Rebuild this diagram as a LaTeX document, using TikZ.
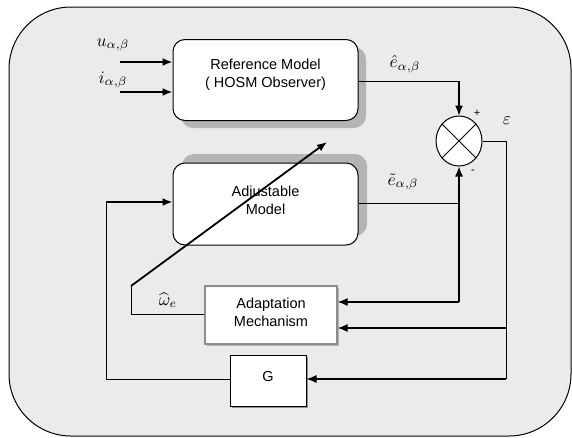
\documentclass[tikz,border=0pt]{standalone}
\usepackage{fontspec}
\usepackage{graphicx}
\newfontfamily\arialf{Liberation Sans}
\usetikzlibrary{arrows.meta,shapes.geometric}
\definecolor{bggray}{HTML}{EBEBEB}
\definecolor{shgray}{HTML}{B4B4B4}
\definecolor{bordergray}{HTML}{8C8C8C}
\newcommand{\mlabtext}[1]{\scalebox{1.75}{$#1$}}
\begin{document}
\begin{tikzpicture}[x=1pt,y=-1pt,
  txt/.style={font=\arialf\fontsize{14.5}{18}\selectfont, align=center, inner sep=0pt},
  mlab/.style={inner sep=0pt},
  rbox/.style={draw=black, line width=1pt, fill=white, rounded corners=12pt, inner sep=0pt},
  sbox/.style={fill=white, inner sep=0pt},
  wire/.style={draw=black, line width=1pt},
  awire/.style={draw=black, line width=1.3pt, -{Latex[length=10pt,width=8pt]}},
  bwire/.style={draw=black, line width=1.8pt, -{Latex[length=10pt,width=8pt]}},
  bline/.style={draw=black, line width=1.3pt}
]
\useasboundingbox (0,0) rectangle (572,437);
\path[fill=bggray, draw=black, line width=1pt, rounded corners=62pt] (9,7) rectangle (571,436);

% shadows
\fill[shgray, rounded corners=12pt] (181,47) rectangle (366,128);
\fill[shgray, rounded corners=12pt] (182,154) rectangle (367,236);
\fill[shgray] (207,288) rectangle (339,346);
\fill[shgray!80!black] (232,357) rectangle (308,408);

% boxes
\node[rbox, minimum width=185pt, minimum height=81pt] (ref) at (265.5,80) {};
\node[rbox, minimum width=185pt, minimum height=82pt] (adj) at (265.5,204) {};
\node[sbox, draw=bordergray, line width=1.3pt, minimum width=132pt, minimum height=58pt] (adapt) at (271,315) {};
\node[sbox, draw=black, line width=1pt, minimum width=76pt, minimum height=51pt] (G) at (268,380.5) {};
\node[ellipse, draw=black, line width=1pt, fill=white, minimum width=46pt, minimum height=50pt, inner sep=0pt] (sum) at (459,141) {};
\draw[line width=0.9pt] (sum.45) -- (sum.225) (sum.135) -- (sum.315);

% texts
\node[txt] (reft) at (265.5,75) {Reference Model\\( HOSM Observer)};
\node[txt] (adjt) at (265.5,200) {Adjustable\\Model};
\node[txt] (adaptt) at (271,312) {Adaptation\\Mechanism};
\node[txt] (Gt) at (268,376) {G};

% labels
\node[mlab] (lu) at (113,45) {\mlabtext{u_{\alpha,\beta}}};
\node[mlab] (li) at (113,80) {\mlabtext{i_{\alpha,\beta}}};
\node[mlab] (lehat) at (405,64) {\mlabtext{\hat{e}_{\alpha,\beta}}};
\node[mlab] (letil) at (403,182) {\mlabtext{\tilde{e}_{\alpha,\beta}}};
\node[mlab] (leps) at (507,121) {\mlabtext{\varepsilon}};
\node[txt, font=\arialf\fontsize{11}{12}\selectfont] (lplus) at (477,113) {+};
\node[txt, font=\arialf\fontsize{11}{12}\selectfont] (lminus) at (473,172) {-};
\node[mlab] (lw) at (168,300) {\mlabtext{\widehat{\omega}_e}};

% coordinates
\coordinate (inU) at (120,62);
\coordinate (inI) at (120,92);
\coordinate (jA) at (459,203);
\coordinate (jB) at (459,302);
\coordinate (eR) at (506,141);
\coordinate (eM) at (506,328);
\coordinate (eG) at (506,379);
\coordinate (gL) at (106,379);
\coordinate (gU) at (106,202);
\coordinate (wL) at (131,314);
\coordinate (wU) at (131,286);
\coordinate (wT) at (327,142);

% inputs
\draw[bwire] (inU) -- (inU -| ref.west);
\draw[bwire] (inI) -- (inI -| ref.west);

% to summation
\draw[wire] (ref.east |- 0,81) -- (459,81);
\draw[awire] (459,80.5) -- (sum.north);
\draw[wire] (adj.east |- jA) -- (jA);
\draw[awire] (jA) -- (sum.south);
\draw[bline] (jA) -- (jB);
\draw[awire] (jB) -- (jB -| adapt.east);

% error
\draw[wire] (sum.east) -- (eR) -- (eG);
\draw[awire] (eM) -- (eM -| adapt.east);
\draw[awire] (eG) -- (eG -| G.east);

% G feedback
\draw[wire] (G.west |- gL) -- (gL) -- (gU);
\draw[bwire] (gU) -- (gU -| adj.west);

% speed estimate
\draw[wire] (adapt.west |- wL) -- (wL) -- (wU);
\draw[bwire] (wU) -- (wT);
\end{tikzpicture}
\end{document}
